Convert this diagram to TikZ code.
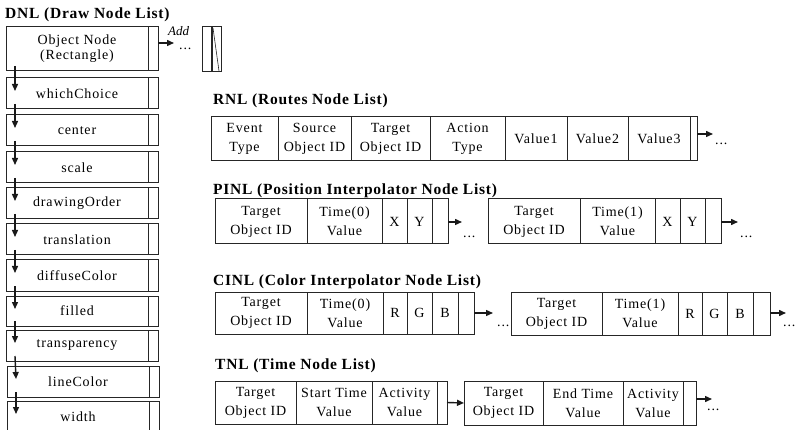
\documentclass[tikz,border=0pt]{standalone}
\usepackage{fontspec}
\setmainfont{Liberation Serif}
\newfontfamily\cellfont[LetterSpace=6]{Liberation Serif}
\newfontfamily\headfont[LetterSpace=5]{Liberation Serif}
\usetikzlibrary{arrows.meta}
\tikzset{
  cell/.style={draw=black!85, line width=1pt, inner sep=0pt, outer sep=0pt,
    align=center, text=black, font=\cellfont\fontsize{14}{19}\selectfont},
  heading/.style={anchor=base west, inner sep=0pt, text=black,
    font=\headfont\bfseries\fontsize{15.5}{18}\selectfont},
  arr/.style={draw=black!90, line width=1.4pt, -{Triangle[length=7pt,width=6pt]}},
  more/.style={anchor=base west, inner sep=0pt, text=black,
    font=\cellfont\fontsize{14}{19}\selectfont},
}
% \cellat{name}{x left}{x right}{y top}{y bottom}{text}
\newcommand\cellat[6]{%
  \pgfmathsetmacro\cw{#3-#2}\pgfmathsetmacro\ch{#5-#4}%
  \node[cell, minimum width=\cw pt, minimum height=\ch pt, anchor=north west] (#1) at (#2,#4) {#6};}
\begin{document}
\begin{tikzpicture}[x=1pt, y=-1pt]
\fill[white] (0,0) rectangle (800,430);
\clip (0,0) rectangle (800,430);

% ---- Draw Node List ----
\node[heading] (dnlT) at (5,19) {DNL (Draw Node List)};
\node[cell, minimum width=142pt, minimum height=44pt, anchor=north west,
  font=\cellfont\fontsize{14}{15}\selectfont] (d0) at (6,27) {Object Node\\(Rectangle)};
\node[cell, minimum width=10pt, minimum height=44pt, anchor=north west] (dp0) at (148,27) {};
\foreach \t/\h/\x/\lab [count=\i] in {78/31/6/whichChoice, 115/31/6/center, 152/31/6/scale,
    188/31/6/drawingOrder, 224/31/6/translation, 260/31/6/diffuseColor, 296/30/6/filled,
    330/31/6/transparency, 366/31/7/lineColor, 401/31/7/width}{
  \pgfmathsetmacro\xr{\x+142}
  \node[cell, minimum width=142pt, minimum height=\h pt, anchor=north west] (d\i) at (\x,\t) {\lab};
  \node[cell, minimum width=10pt, minimum height=\h pt, anchor=north west] (dp\i) at (\xr,\t) {};
}
\foreach \i [remember=\i as \j (initially 0)] in {1,...,10}{
  \draw[arr] ([shift={(9,-5)}]d\j.south west) -- ([shift={(9,13)}]d\i.north west);
}
% new object appended
\coordinate (addtip) at (174,43);
\draw[arr] (dp0.east |- addtip) -- (addtip);
\node[anchor=base west, inner sep=0pt, text=black,
  font=\itshape\fontsize{13}{15}\selectfont] (addlbl) at (168,36) {Add};
\node[more] (adddots) at (179,50) {...};
\node[draw=black!85, line width=1pt, minimum width=19pt, minimum height=45pt,
  anchor=north west, inner sep=0pt, outer sep=0pt] (slot) at (202,27) {};
\draw[line width=1.6pt, black!85] ([xshift=10pt]slot.north west) -- ([xshift=10pt]slot.south west);
\draw[line width=0.6pt, black!85] ([shift={(11,1)}]slot.north west) -- ([shift={(17,-1)}]slot.south west);

% ---- Routes Node List ----
\node[heading] (rnlT) at (213,105) {RNL (Routes Node List)};
\cellat{r1}{211}{278}{117}{161}{Event\\Type}
\cellat{r2}{278}{351}{117}{161}{Source\\Object ID}
\cellat{r3}{351}{430}{117}{161}{Target\\Object ID}
\cellat{r4}{430}{505}{117}{161}{Action\\Type}
\cellat{r5}{505}{567}{117}{161}{Value1}
\cellat{r6}{567}{628}{117}{161}{Value2}
\cellat{r7}{628}{690}{117}{161}{Value3}
\cellat{r8}{690}{697}{117}{161}{}
\coordinate (rtip) at (713,134);
\draw[arr] (r8.east |- rtip) -- (rtip);
\node[more] (rdots) at (715,145) {...};

% ---- Position Interpolator Node List ----
\node[heading] (pinlT) at (213,195) {PINL (Position Interpolator Node List)};
\cellat{p1}{215}{307}{199}{244}{Target\\Object ID}
\cellat{p2}{307}{382}{199}{244}{Time(0)\\Value}
\cellat{p3}{382}{407}{199}{244}{X}
\cellat{p4}{407}{432}{199}{244}{Y}
\cellat{p5}{432}{448}{199}{244}{}
\coordinate (ptip) at (462,222);
\draw[arr] (p5.east |- ptip) -- (ptip);
\node[more] (pdots) at (463,238) {...};
\cellat{q1}{488}{580}{199}{244}{Target\\Object ID}
\cellat{q2}{580}{655}{199}{244}{Time(1)\\Value}
\cellat{q3}{655}{680}{199}{244}{X}
\cellat{q4}{680}{705}{199}{244}{Y}
\cellat{q5}{705}{721}{199}{244}{}
\coordinate (qtip) at (738,222);
\draw[arr] (q5.east |- qtip) -- (qtip);
\node[more] (qdots) at (740,238) {...};

% ---- Color Interpolator Node List ----
\node[heading] (cinlT) at (213,285) {CINL (Color Interpolator Node List)};
\cellat{c1}{215}{307}{292}{334}{Target\\Object ID}
\cellat{c2}{307}{383}{292}{334}{Time(0)\\Value}
\cellat{c3}{383}{407}{292}{334}{R}
\cellat{c4}{407}{432}{292}{334}{G}
\cellat{c5}{432}{458}{292}{334}{B}
\cellat{c6}{458}{474}{292}{334}{}
\coordinate (ctip) at (493,313);
\draw[arr] (c6.east |- ctip) -- (ctip);
\node[more] (cdots) at (497,326) {...};
\cellat{e1}{511}{602}{292}{335}{Target\\Object ID}
\cellat{e2}{602}{678}{292}{335}{Time(1)\\Value}
\cellat{e3}{678}{702}{292}{335}{R}
\cellat{e4}{702}{727}{292}{335}{G}
\cellat{e5}{727}{753}{292}{335}{B}
\cellat{e6}{753}{770}{292}{335}{}
\coordinate (etip) at (786,313);
\draw[arr] (e6.east |- etip) -- (etip);
\node[more] (edots) at (783,326) {...};

% ---- Time Node List ----
\node[heading] (tnlT) at (215,369) {TNL (Time Node List)};
\cellat{t1}{215}{296}{381}{424}{Target\\Object ID}
\cellat{t2}{296}{372}{381}{424}{Start Time\\Value}
\cellat{t3}{372}{437}{381}{424}{Activity\\Value}
\cellat{t4}{437}{447}{381}{424}{}
\cellat{u1}{464}{543}{381}{425}{Target\\Object ID}
\cellat{u2}{543}{623}{381}{425}{End Time\\Value}
\cellat{u3}{623}{683}{381}{425}{Activity\\Value}
\cellat{u4}{683}{696}{381}{425}{}
\draw[arr] (t4.east) -- (u1.west);
\coordinate (utip) at (712,399);
\draw[arr] (u4.east |- utip) -- (utip);
\node[more] (udots) at (707,410) {...};
\end{tikzpicture}
\end{document}
